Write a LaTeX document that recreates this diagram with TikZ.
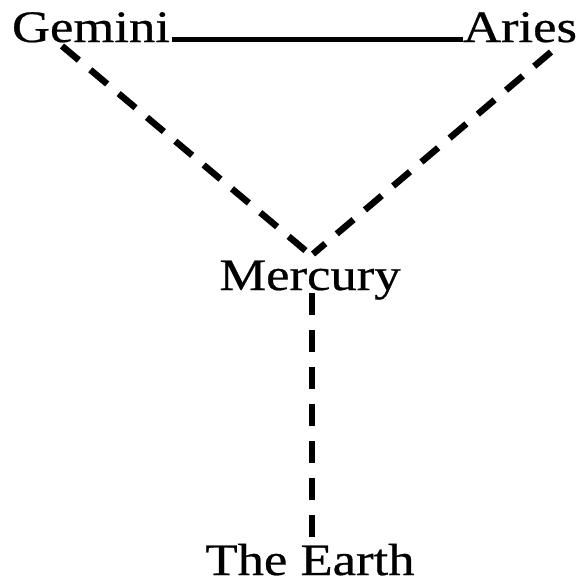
\documentclass[tikz,border=0pt]{standalone}
\usepackage{fontspec}
\setmainfont{Liberation Serif}[FakeBold=0.5]
\tikzset{
  lbl/.style={inner sep=0pt, anchor=base, font=\fontsize{45}{50}\selectfont},
  solidedge/.style={line width=4.5pt},
  dashedge/.style={line width=6.5pt, dash pattern=on 22pt off 15pt}
}
\newcommand{\wide}[1]{\scalebox{1.17}[1]{#1}}
\begin{document}
\begin{tikzpicture}[x=1pt,y=-1pt]
\useasboundingbox (0,0) rectangle (586,584);
\node[lbl] (gem) at (91,42) {\wide{Gemini}};
\node[lbl] (ari) at (520,42) {\wide{Aries}};
\node[lbl] (mer) at (310,290) {\wide{Mercury}};
\node[lbl] (ear) at (310,575) {\wide{The Earth}};
\coordinate (g1) at (62,46);
\coordinate (g2) at (306,251);
\coordinate (a1) at (551,52);
\coordinate (a2) at (313,254);
\coordinate (m1) at (312,293);
\coordinate (e1) at (312,541);
\draw[solidedge] (gem.east) ++(2pt,-12pt) coordinate (s1) -- (s1 -| ari.west);
\draw[dashedge] (g1) -- (g2);
\draw[dashedge] (a1) -- (a2);
\draw[dashedge] (m1) -- (e1);
\end{tikzpicture}
\end{document}
